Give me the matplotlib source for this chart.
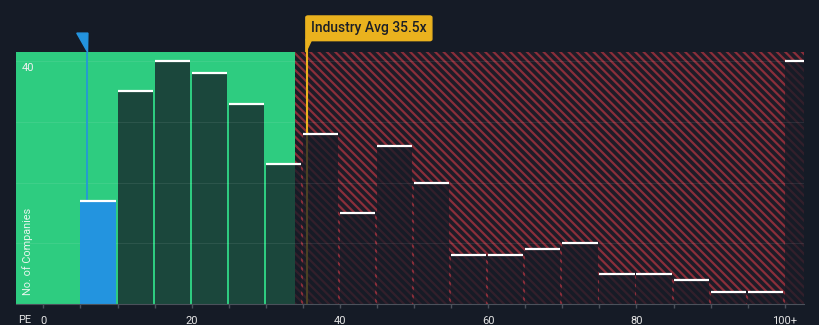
import matplotlib.pyplot as plt
from matplotlib.patches import Polygon, FancyBboxPatch

# PE histogram: left edge of each 5x bin and number of companies in it
bin_left = [5, 10, 15, 20, 25, 30, 35, 40, 45, 50, 55, 60, 65, 70, 75, 80, 85, 90, 95, 100]
counts = [17, 35, 40, 38, 33, 23, 28, 15, 26, 20, 8, 8, 9, 10, 5, 5, 4, 2, 2, 40]

company_pe = 5.9
industry_avg = 35.5
fair_limit = 34.0

xtick_pos = [0, 20, 40, 60, 80, 100]
xtick_labels = ["0", "20", "40", "60", "80", "100+"]
ytick_pos = [40]

BG = "#151b26"
GREEN = "#2ecc80"
BLUE = "#2394df"
GOLD = "#eab21e"
HATCH_RED = "#8a2e3a"

plt.rcParams["font.family"] = ["Roboto", "DejaVu Sans"]
plt.rcParams["hatch.linewidth"] = 1.6

XMIN, XMAX = -3.7, 102.6

fig = plt.figure(figsize=(8.2, 3.25), dpi=100, facecolor=BG)
ax = fig.add_axes([16 / 820, 21 / 325, 788 / 820, 252 / 325])
ax.set_facecolor(BG)
ax.set_xlim(XMIN, XMAX)
ax.set_ylim(0, 41.5)

# value zones behind the bars
ax.axvspan(XMIN, fair_limit, color=GREEN, lw=0, zorder=0)
ax.axvspan(fair_limit, XMAX, facecolor="#1e1c27", edgecolor=HATCH_RED,
           hatch="\\\\\\\\", lw=0, zorder=0)

# industry average line sits under the bars
ax.axvline(industry_avg, color=GOLD, lw=1.5, zorder=1)

for left, n in zip(bin_left, counts):
    if left <= company_pe < left + 5:
        ax.bar(left, n, width=4.75, align="edge", color=BLUE, lw=0, zorder=3)
    else:
        ax.bar(left, n, width=4.75, align="edge", color=BG, alpha=0.75, lw=0, zorder=2)
    ax.plot([left, left + 4.75], [n, n], color="white", lw=1.6,
            solid_capstyle="butt", zorder=4)

for y in [10, 20, 30, 40]:
    ax.axhline(y, color="white", alpha=0.08, lw=0.8, zorder=2.5)

# company marker: line plus flag above the plot
ax.plot([company_pe, company_pe], [counts[0], 41.5], color=BLUE, lw=1.2, zorder=3)
xt = ax.get_xaxis_transform()
ax.add_patch(Polygon([(company_pe - 1.4, 1.075), (company_pe + 0.1, 1.075),
                      (company_pe + 0.05, 1.0)], closed=True, color=BLUE,
                     transform=xt, clip_on=False, zorder=5))

# industry average callout
ax.plot([industry_avg, industry_avg], [1.0, 1.05], color=GOLD, lw=1.5,
        transform=xt, clip_on=False, zorder=5)
ax.add_patch(Polygon([(industry_avg - 0.1, 1.05), (industry_avg + 0.7, 1.05),
                      (industry_avg - 0.1, 1.0)], closed=True, color=GOLD,
                     transform=xt, clip_on=False, zorder=5))
ax.add_patch(FancyBboxPatch((industry_avg - 0.1, 1.045), 17.0, 0.098,
                            boxstyle="round,pad=0,rounding_size=0.3",
                            color=GOLD, transform=xt, clip_on=False,
                            mutation_aspect=0.02, zorder=5))
ax.text(industry_avg + 8.4, 1.094, f"Industry Avg {industry_avg}x", transform=xt,
        ha="center", va="center", fontsize=10, color="#1b1f27",
        fontweight="medium", zorder=6)

# axis styling
for side in ["left", "right", "top"]:
    ax.spines[side].set_visible(False)
ax.spines["bottom"].set_color("#4b515b")
ax.spines["bottom"].set_zorder(6)
ax.set_xticks(xtick_pos)
ax.set_xticklabels(xtick_labels)
ax.set_xticks(range(0, 105, 5), minor=True)
ax.tick_params(axis="x", which="both", length=3, color="#4b515b", width=1,
               labelsize=8, labelcolor="#e6e6e6", pad=5.5)
ax.set_yticks([])

for y in ytick_pos:
    ax.text(-2.9, y - 1.2, str(y), ha="left", va="center", fontsize=8,
            color="#f0f0f0", zorder=6)
ax.text(-2.2, 1.5, "No. of Companies", rotation=90, ha="center", va="bottom",
        fontsize=7.8, color="#e8f5ee", zorder=6)
fig.text(18 / 820, 5 / 325, "PE", ha="left", va="center", fontsize=8,
         color="#e6e6e6")

fig.savefig("out.png", dpi=100, facecolor=BG)
